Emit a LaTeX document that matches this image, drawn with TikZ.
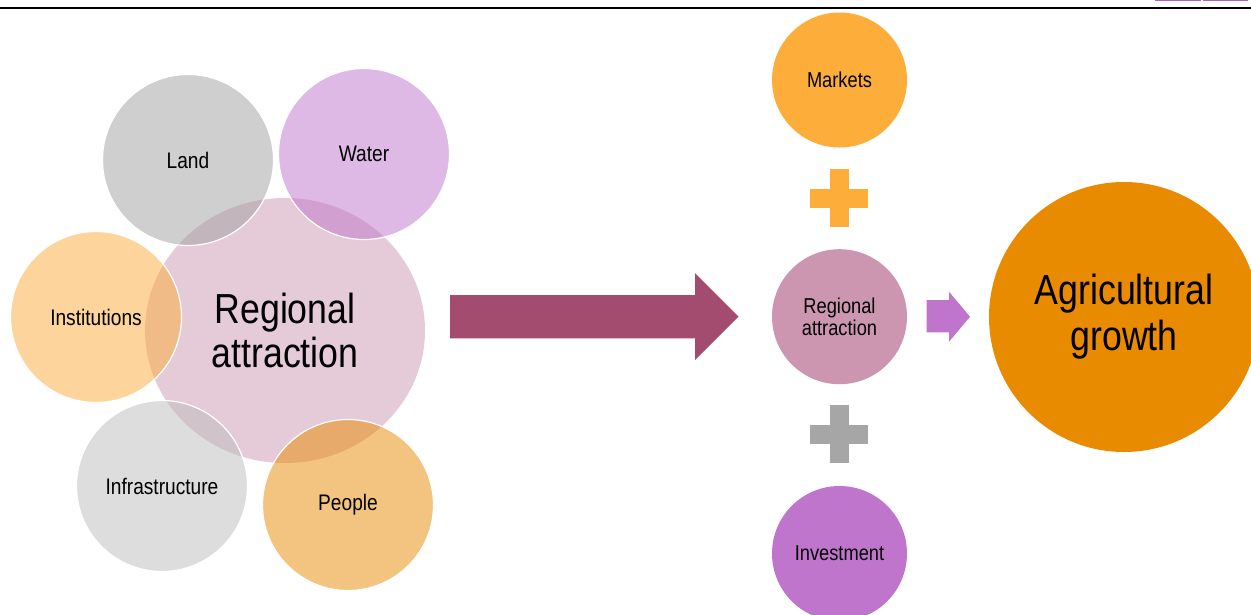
\documentclass[tikz,border=0pt]{standalone}
\usepackage{fontspec}
\setmainfont{Liberation Sans}[FakeStretch=0.85]
\usetikzlibrary{shapes.geometric}
\definecolor{cPink}{RGB}{205,150,176}
\definecolor{cGrayA}{RGB}{161,161,161}
\definecolor{cGrayB}{RGB}{189,189,189}
\definecolor{cPurple}{RGB}{192,117,204}
\definecolor{cOrange}{RGB}{253,173,58}
\definecolor{cDeep}{RGB}{233,139,0}
\definecolor{cArrow}{RGB}{163,76,112}
\definecolor{cPlusGray}{RGB}{166,166,166}
\definecolor{cTab}{RGB}{176,96,192}
\newcommand\fsz[2]{\fontsize{#1}{#2}\selectfont}
\tikzset{
  bub/.style={circle, inner sep=0pt, minimum size=171pt, fill opacity=0.5, text opacity=1,
    draw=white, draw opacity=1, line width=1.2pt, font=\fsz{22.5}{24}},
  solidc/.style={circle, inner sep=0pt, minimum size=135pt, align=center, font=\fsz{21.5}{22.3}},
}
\begin{document}
\begin{tikzpicture}[x=1pt,y=-1pt]
\useasboundingbox (0,0) rectangle (1251,614);
\fill[white] (0,0) rectangle (1251,614);
% header line and tabs
\draw[line width=2pt, black] (0,7.7) -- (1251,7.7);
\draw[cTab, line width=1pt, fill=cTab!25] (1155,-10) rectangle (1200,0.8);
\draw[cTab, line width=1pt, fill=cTab!25] (1203,-10) rectangle (1247,0.8);
% left cluster
\node[ellipse, inner sep=0pt, minimum width=280pt, minimum height=265pt, fill=cPink,
  fill opacity=0.5, text opacity=1, align=center, font=\fsz{42}{44}] (ra) at (285,330.5)
  {Regional\\attraction};
\node[bub, fill=cGrayA] (land) at (188,160) {Land};
\node[bub, fill=cPurple] (water) at (364,154) {Water};
\node[bub, fill=cOrange] (inst) at (96,317) {Institutions};
\node[bub, fill=cGrayB] (infra) at (162,486) {Infrastructure};
\node[bub, fill=cDeep] (people) at (348,505) {People};
% big arrow
\fill[cArrow] (450,295) -- (695,295) -- (695,273) -- (738.5,316.7) -- (695,360) -- (695,338.3) -- (450,338.3) -- cycle;
% right column
\node[solidc, fill=cOrange] (mk) at (839.5,80) {Markets};
\fill[cOrange] (829.5,169.3) rectangle (848.5,227.3);
\fill[cOrange] (810.3,189) rectangle (867.7,207.7);
\node[solidc, fill=cPink] (ra2) at (839.5,316.7) {Regional\\attraction};
\fill[cPlusGray] (829.5,405) rectangle (848.5,463.3);
\fill[cPlusGray] (810.3,425) rectangle (867.7,443.7);
\node[solidc, fill=cPurple] (inv) at (839.5,553.5) {Investment};
% small arrow
\fill[cPurple] (926.7,300) -- (949,300) -- (949,291.7) -- (970,316.7) -- (949,341.7) -- (949,332.3) -- (926.7,332.3) -- cycle;
\node[circle, inner sep=0pt, minimum size=270pt, fill=cDeep, align=center, font=\fsz{42}{46}] (ag) at (1124,317) {Agricultural\\growth};
\end{tikzpicture}
\end{document}
